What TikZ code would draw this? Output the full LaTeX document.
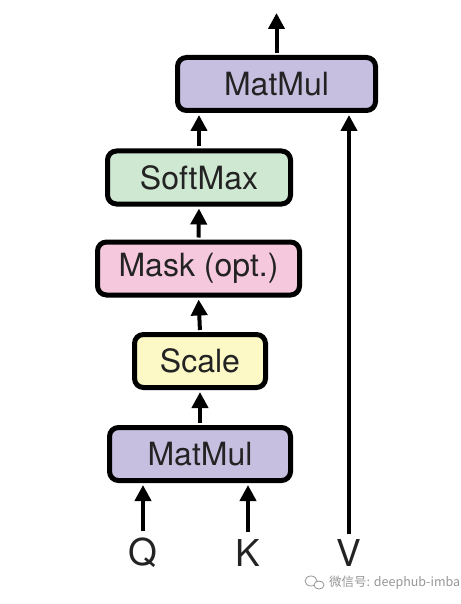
\documentclass[tikz,border=0pt]{standalone}
\usepackage{fontspec}
\setmainfont{TeX Gyre Heros}
\newfontfamily\cjk{Noto Sans CJK SC}
\usetikzlibrary{arrows.meta,calc}
\definecolor{mmpurple}{RGB}{199,191,224}
\definecolor{smgreen}{RGB}{206,232,210}
\definecolor{mkpink}{RGB}{246,200,222}
\definecolor{scyellow}{RGB}{252,249,198}
\definecolor{txt}{RGB}{35,35,35}
\definecolor{wm}{RGB}{150,150,150}
\tikzset{
  opbox/.style={draw=black, line width=5pt, rounded corners=9pt, inner sep=0pt,
    text=txt, font=\fontsize{32}{38}\selectfont, minimum height=53pt},
  flow/.style={line width=4pt, -{Triangle[width=16pt,length=16pt]}},
  inlabel/.style={text=txt, font=\fontsize{37}{42}\selectfont, inner sep=0pt}
}
\begin{document}
\begin{tikzpicture}[x=1pt,y=-1pt]
\useasboundingbox (0,0) rectangle (460,604);
\node[opbox, fill=mmpurple, minimum width=198pt] (mm2) at (276.5,84) {MatMul};
\node[opbox, fill=smgreen, minimum width=183pt] (sm) at (199,177.5) {SoftMax};
\node[opbox, fill=mkpink, minimum width=202pt] (mk) at (198.5,268.5) {Mask (opt.)};
\node[opbox, fill=scyellow, minimum width=131pt] (sc) at (200,361) {Scale};
\node[opbox, fill=mmpurple, minimum width=181pt] (mm1) at (200,454) {MatMul};
\node[inlabel] (q) at (143,553) {Q};
\node[inlabel] (k) at (248,553) {K};
\node[inlabel] (v) at (349,553) {V};
\coordinate (out) at (276.5,13);
\draw[flow, shorten <=7pt, shorten >=2pt] (q.north) -- (q.north |- mm1.south);
\draw[flow, shorten <=7pt, shorten >=2pt] (k.north) -- (k.north |- mm1.south);
\draw[flow, shorten <=5pt, shorten >=2pt] (v.north) -- (v.north |- mm2.south);
\draw[flow, shorten <=2pt, shorten >=2pt] (mm1.north) -- (sc.south);
\draw[flow, shorten <=2pt, shorten >=2pt] (sc.north) -- (mk.south);
\draw[flow, shorten <=2pt, shorten >=2pt] (mk.north) -- (sm.south);
\draw[flow, shorten <=2pt, shorten >=2pt] (sm.north) -- (sm.north |- mm2.south);
\draw[flow, shorten <=2pt] (mm2.north) -- (out);
% watermark
\draw[wm, line width=0.8pt] (311,581) ellipse (6pt and 5pt);
\draw[wm, line width=0.8pt, fill=white] (319,585) ellipse (5pt and 4pt);
\node[text=wm, font=\cjk\fontsize{12.5}{14}\selectfont, anchor=west, inner sep=0pt] (w) at (329,583) {微信号: deephub-imba};
\end{tikzpicture}
\end{document}
